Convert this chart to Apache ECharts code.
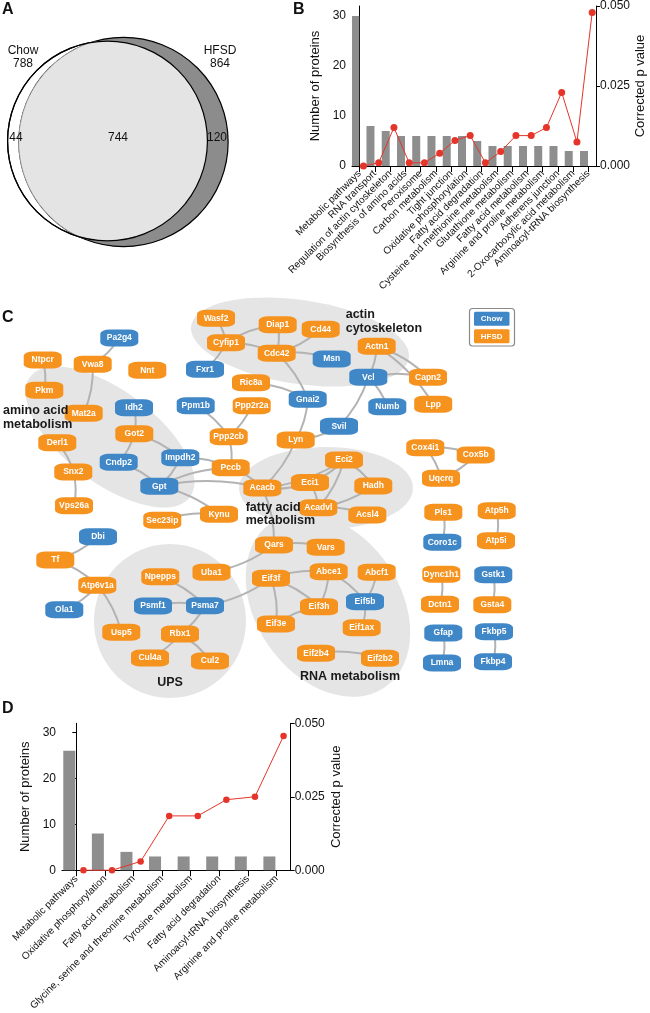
<!DOCTYPE html>
<html>
<head>
<meta charset="utf-8">
<script src="https://cdn.jsdelivr.net/npm/echarts@6/dist/echarts.min.js"></script>
<style>html,body{margin:0;padding:0;background:#fff}#c{width:650px;height:1013px}</style>
</head>
<body>
<div id="c"></div>
<script>
// ---------- DATA ----------
const vennNames = ['Chow', 'HFSD'];
const vennTotals = [788, 864];
const vennOnly = [44, 120];
const vennShared = 744;

const bCategories = ['Metabolic pathways', 'RNA transport', 'Regulation of actin cytoskeleton',
  'Biosynthesis of amino acids', 'Peroxisome', 'Carbon metabolism', 'Tight junction',
  'Oxidative phosphorylation', 'Fatty acid degradation', 'Cysteine and methionine metabolism',
  'Glutathione metabolism', 'Fatty acid metabolism', 'Arginine and proline metabolism',
  'Adherens junction', '2-Oxocarboxylic acid metabolism', 'Aminoacyl-tRNA biosynthesis'];
const bProteins = [30, 8, 7, 6, 6, 6, 6, 6, 5, 4, 4, 4, 4, 4, 3, 3];
const bPValues = [0.000, 0.001, 0.012, 0.001, 0.001, 0.004, 0.008, 0.0095, 0.001, 0.0045, 0.0095, 0.0095, 0.012, 0.023, 0.0075, 0.048];

const dCategories = ['Metabolic pathways', 'Oxidative phosphorylation', 'Fatty acid metabolism',
  'Glycine, serine and threonine metabolism', 'Tyrosine metabolism', 'Fatty acid degradation',
  'Aminoacyl-tRNA biosynthesis', 'Arginine and proline metabolism'];
const dProteins = [26, 8, 4, 3, 3, 3, 3, 3];
const dPValues = [0.000, 0.000, 0.003, 0.0185, 0.0185, 0.024, 0.025, 0.0457];

const countTicks = [0, 10, 20, 30];
const pTicks = [0, 0.025, 0.05];

// network: [protein, group]
const netNodes = [
  ['Pa2g4','Chow'],['Ntpcr','HFSD'],['Vwa8','HFSD'],['Nnt','HFSD'],['Fxr1','Chow'],['Pkm','HFSD'],
  ['Mat2a','HFSD'],['Idh2','Chow'],['Ppm1b','Chow'],['Got2','HFSD'],['Derl1','HFSD'],['Cndp2','Chow'],
  ['Impdh2','Chow'],['Snx2','HFSD'],['Gpt','Chow'],['Vps26a','HFSD'],['Sec23ip','HFSD'],['Kynu','HFSD'],
  ['Wasf2','HFSD'],['Diap1','HFSD'],['Cd44','HFSD'],['Cyfip1','HFSD'],['Cdc42','HFSD'],['Actn1','HFSD'],
  ['Msn','Chow'],['Vcl','Chow'],['Capn2','HFSD'],['Ric8a','HFSD'],['Gnai2','Chow'],['Numb','Chow'],
  ['Lpp','HFSD'],['Ppp2r2a','HFSD'],['Svil','Chow'],['Ppp2cb','HFSD'],['Lyn','HFSD'],['Cox4i1','HFSD'],
  ['Cox5b','HFSD'],['Eci2','HFSD'],['Pccb','HFSD'],['Uqcrq','HFSD'],['Eci1','HFSD'],['Hadh','HFSD'],
  ['Acacb','HFSD'],['Acadvl','HFSD'],['Acsl4','HFSD'],['Qars','HFSD'],['Vars','HFSD'],['Dbi','Chow'],
  ['Tf','HFSD'],['Npepps','HFSD'],['Uba1','HFSD'],['Atp6v1a','HFSD'],['Eif3f','HFSD'],['Abce1','HFSD'],
  ['Abcf1','HFSD'],['Psmf1','Chow'],['Psma7','Chow'],['Ola1','Chow'],['Eif3h','HFSD'],['Eif5b','Chow'],
  ['Usp5','HFSD'],['Rbx1','HFSD'],['Eif3e','HFSD'],['Eif1ax','HFSD'],['Cul4a','HFSD'],['Cul2','HFSD'],
  ['Eif2b4','HFSD'],['Eif2b2','HFSD'],['Pls1','HFSD'],['Atp5h','HFSD'],['Coro1c','Chow'],['Atp5i','HFSD'],
  ['Dync1h1','HFSD'],['Gstk1','Chow'],['Dctn1','HFSD'],['Gsta4','HFSD'],['Gfap','Chow'],['Fkbp5','Chow'],
  ['Lmna','Chow'],['Fkbp4','Chow']
];
const netEdges = [
  ['Pa2g4','Vwa8'],['Ntpcr','Pkm'],['Vwa8','Mat2a'],['Idh2','Got2'],['Got2','Cndp2'],['Got2','Impdh2'],
  ['Cndp2','Gpt'],['Impdh2','Gpt'],['Impdh2','Pccb'],['Gpt','Pccb'],['Gpt','Acacb'],['Gpt','Kynu'],
  ['Sec23ip','Kynu'],['Derl1','Snx2'],['Snx2','Vps26a'],['Ppm1b','Ppp2cb'],['Ppp2r2a','Ppp2cb'],
  ['Ppp2cb','Pccb'],['Pccb','Acacb'],['Ric8a','Gnai2'],['Cdc42','Gnai2'],['Wasf2','Cyfip1'],
  ['Cyfip1','Diap1'],['Cyfip1','Cdc42'],['Cyfip1','Fxr1'],['Diap1','Cdc42'],['Cd44','Cdc42'],
  ['Cdc42','Msn'],['Actn1','Vcl'],['Actn1','Capn2'],['Actn1','Lpp'],['Vcl','Capn2'],['Vcl','Numb'],
  ['Vcl','Svil'],['Gnai2','Lyn'],['Svil','Lyn'],['Lyn','Acacb'],['Eci2','Eci1'],['Eci2','Acadvl'],
  ['Eci2','Acacb'],['Eci2','Hadh'],['Eci1','Acacb'],['Eci1','Acadvl'],['Hadh','Acadvl'],['Acadvl','Acsl4'],
  ['Acacb','Qars'],['Qars','Vars'],['Qars','Uba1'],['Eif3f','Psma7'],['Eif3f','Abce1'],['Eif3f','Eif3h'],
  ['Eif3f','Eif3e'],['Abce1','Eif3h'],['Abce1','Eif5b'],['Abcf1','Eif5b'],['Eif5b','Eif1ax'],
  ['Eif3e','Eif3h'],['Eif2b4','Eif2b2'],['Npepps','Psma7'],['Psmf1','Psma7'],['Psma7','Rbx1'],
  ['Rbx1','Cul4a'],['Rbx1','Cul2'],['Dbi','Tf'],['Tf','Atp6v1a'],['Atp6v1a','Ola1'],['Atp6v1a','Usp5'],
  ['Cox4i1','Cox5b'],['Cox4i1','Uqcrq'],['Cox5b','Uqcrq'],['Pls1','Coro1c'],['Atp5h','Atp5i'],
  ['Dync1h1','Dctn1'],['Gstk1','Gsta4'],['Gfap','Lmna'],['Fkbp5','Fkbp4']
];
const clusterNames = ['amino acid\nmetabolism', 'actin\ncytoskeleton', 'fatty acid\nmetabolism', 'UPS', 'RNA metabolism'];

// ---------- LAYOUT (positions / sizes, not data) ----------
const netLayout = {
  Pa2g4:[119.3,338],Ntpcr:[42.7,360],Vwa8:[92.7,364.3],Nnt:[147.3,370.3],Fxr1:[205,369.3],Pkm:[44.3,390.3],
  Mat2a:[83.7,413.3],Idh2:[134,407.7],Ppm1b:[195.7,405.7],Got2:[134.3,433.7],Derl1:[57.3,442.7],Cndp2:[118.7,462.3],
  Impdh2:[180.3,457.7],Snx2:[73.3,472],Gpt:[159.3,486.3],Vps26a:[74,505.7],Sec23ip:[162.3,520.3],Kynu:[219,514.3],
  Wasf2:[216,318.3],Diap1:[277.7,324.7],Cd44:[320.7,329.3],Cyfip1:[226,342.7],Cdc42:[276.7,353.3],Actn1:[376.7,346.3],
  Msn:[331.7,359],Vcl:[368.3,377.3],Capn2:[428,377.3],Ric8a:[251,382.7],Gnai2:[307.7,399.3],Numb:[387.3,406.7],
  Lpp:[433.2,404.3],Ppp2r2a:[251.7,405.7],Svil:[339,426.3],Ppp2cb:[228.7,436.7],Lyn:[295.7,440],Cox4i1:[425.3,447.7],
  Cox5b:[475.7,455],Eci2:[344,460],Pccb:[230.7,467.7],Uqcrq:[441,478.3],Eci1:[310,482.5],Hadh:[373.3,486],
  Acacb:[262.3,488],Acadvl:[318.3,507.7],Acsl4:[367.3,515],Qars:[274,545],Vars:[325.7,547.3],Dbi:[98,536.7],
  Tf:[55.3,560],Npepps:[160.3,576.7],Uba1:[211.5,572.3],Atp6v1a:[97.3,585.3],Eif3f:[271,578.3],Abce1:[328.7,571.7],
  Abcf1:[376.7,572.3],Psmf1:[153,606],Psma7:[205,605.7],Ola1:[64.3,609.7],Eif3h:[319,606.7],Eif5b:[365,601.7],
  Usp5:[121.3,632.3],Rbx1:[180,634],Eif3e:[276,624],Eif1ax:[361.7,627.7],Cul4a:[150,658],Cul2:[210,661],
  Eif2b4:[316,653.3],Eif2b2:[380,658.3],Pls1:[443.3,512.3],Atp5h:[496.7,510.7],Coro1c:[442.3,542.3],Atp5i:[496,540.7],
  Dync1h1:[441.3,574.3],Gstk1:[493.3,574.7],Dctn1:[440,604.3],Gsta4:[492.3,604.7],Gfap:[443.3,633],Fkbp5:[494,631.7],
  Lmna:[442,663],Fkbp4:[493,661.7]
};
const clusterShapes = [
  {cx:110, cy:437, rx:100, ry:46, rot:-37},
  {cx:300, cy:342, rx:110, ry:42, rot:-8.5},
  {cx:326, cy:488, rx:87, ry:41, rot:0},
  {cx:170, cy:621, rx:76, ry:77, rot:0},
  {cx:328, cy:605, rx:100, ry:72, rot:-55}
];
const clusterLabelPos = [
  {x:3, y:411, align:'left'}, {x:345.7, y:315, align:'left'}, {x:245.7, y:507.5, align:'left'},
  {x:170, y:683, align:'center'}, {x:350, y:677, align:'center'}
];

const FONT = '"Liberation Sans", Arial, Helvetica, sans-serif';
const ORANGE = '#f6921e', BLUE = '#3f87c6', GRAY = '#8e8e8e', RED = '#e5352a';

// ---------- VENN geometry from counts ----------
const vennScale = 3.56;
const vennR = vennTotals.map(n => vennScale * Math.sqrt(n));
const vennC = [[107.5, 141], [123.5, 142]];
function lensPoints(c1, r1, c2, r2) {
  const dx = c2[0]-c1[0], dy = c2[1]-c1[1], d = Math.hypot(dx, dy);
  const ang = Math.atan2(dy, dx);
  const a = (r1*r1 - r2*r2 + d*d) / (2*d);
  const phi1 = Math.acos(a / r1);
  const phi2 = Math.acos((a - d) / r2);
  const pts = [], N = 160;
  for (let i = 0; i <= N; i++) { const t = ang - phi1 + 2*phi1*i/N; pts.push([c1[0]+r1*Math.cos(t), c1[1]+r1*Math.sin(t)]); }
  for (let i = 0; i <= N; i++) { const t = ang + phi2 + (2*Math.PI - 2*phi2)*i/N; pts.push([c2[0]+r2*Math.cos(t), c2[1]+r2*Math.sin(t)]); }
  return pts;
}

function txt(text, x, y, font, align, valign, fill) {
  return {type:'text', x, y, z:5, silent:true,
    style:{text, font, fill: fill || '#111', textAlign: align || 'left', align: align || 'left',
      textVerticalAlign: valign || 'middle', verticalAlign: valign || 'middle', lineHeight: 13}};
}

const graphics = [];
// panel labels
graphics.push(txt('A', 2, 10, 'bold 16px ' + FONT));
graphics.push(txt('B', 293, 10, 'bold 16px ' + FONT));
graphics.push(txt('C', 2, 318, 'bold 16px ' + FONT));
graphics.push(txt('D', 2, 709, 'bold 16px ' + FONT));
// Venn
graphics.push({type:'circle', z:1, shape:{cx:vennC[0][0], cy:vennC[0][1], r:vennR[0]}, style:{fill:'#fff', stroke:'#000', lineWidth:1.2}});
graphics.push({type:'circle', z:1, shape:{cx:vennC[1][0], cy:vennC[1][1], r:vennR[1]}, style:{fill:'#8c8c8c', stroke:'#000', lineWidth:1.2}});
graphics.push({type:'polygon', z:2, shape:{points: lensPoints(vennC[0], vennR[0], vennC[1], vennR[1])}, style:{fill:'#e4e4e4', stroke:'#b5b5b5', lineWidth:0.8}});
graphics.push({type:'circle', z:3, shape:{cx:vennC[0][0], cy:vennC[0][1], r:vennR[0]}, style:{fill:'none', stroke:'#000', lineWidth:1.2}});
const vf = '12px ' + FONT;
graphics.push(txt(vennNames[0] + '\n' + vennTotals[0], 23, 57, vf, 'center'));
graphics.push(txt(vennNames[1] + '\n' + vennTotals[1], 220, 57, vf, 'center'));
graphics.push(txt(String(vennOnly[0]), 16, 138, vf, 'center'));
graphics.push(txt(String(vennShared), 118, 138, vf, 'center'));
graphics.push(txt(String(vennOnly[1]), 217, 138, vf, 'center'));
// clusters
clusterShapes.forEach(s => {
  graphics.push({type:'ellipse', z:0, x:s.cx, y:s.cy, rotation: s.rot*Math.PI/180, silent:true,
    shape:{cx:0, cy:0, rx:s.rx, ry:s.ry}, style:{fill:'#e5e5e5'}});
});
clusterNames.forEach((n, i) => {
  const p = clusterLabelPos[i];
  const lines = n.split('\n');
  lines.forEach((ln, j) => graphics.push(txt(ln, p.x, p.y + j*13.5, 'bold 12.5px ' + FONT, p.align, 'middle', '#1a1a1a')));
});
// legend box for C
graphics.push({type:'rect', z:1, shape:{x:469.5, y:308.5, width:45, height:37.5, r:3}, style:{fill:'#fff', stroke:'#8a8a8a', lineWidth:1.2}});
[['Chow', BLUE, 318.7], ['HFSD', ORANGE, 336.3]].forEach(([t, c, y]) => {
  graphics.push({type:'rect', z:2, shape:{x:474, y:y-7, width:35.5, height:14, r:1.5}, style:{fill:c}});
  graphics.push(txt(t, 491.7, y, 'bold 8px ' + FONT, 'center', 'middle', '#fff'));
});

// ---------- axes helpers ----------
const axisLineStyle = {show:true, lineStyle:{color:'#000', width:1}};
function catAxis(grid, cats, margin) {
  return {type:'category', gridIndex:grid, data:cats, boundaryGap:true,
    axisLine:axisLineStyle, axisTick:{show:true, alignWithLabel:true, interval:0, length:6, lineStyle:{color:'#000'}},
    axisLabel:{interval:0, rotate:45, margin, fontSize:10, color:'#111', fontFamily:FONT},
    splitLine:{show:false}};
}
function hiddenX(grid, n) { return {type:'value', gridIndex:grid, min:-0.5, max:n-0.5, show:false}; }
function countAxis(grid, gap) {
  return {type:'value', gridIndex:grid, min:0, max:32, position:'left',
    axisLine:axisLineStyle, axisTick:{show:true, length:4, customValues:countTicks, lineStyle:{color:'#000'}},
    axisLabel:{customValues:countTicks, fontSize:12, color:'#111', margin:6, fontFamily:FONT},
    splitLine:{show:false}, name:'Number of proteins', nameLocation:'middle', nameGap:gap,
    nameTextStyle:{fontSize:13, color:'#111', fontFamily:FONT}};
}
function pAxis(grid, gap) {
  return {type:'value', gridIndex:grid, min:0, max:0.05, interval:0.025, position:'right',
    axisLine:axisLineStyle, axisTick:{show:true, length:4, lineStyle:{color:'#000'}},
    axisLabel:{formatter:v => v.toFixed(3), fontSize:12, color:'#111', margin:4, fontFamily:FONT},
    splitLine:{show:false}, name:'Corrected p value', nameLocation:'middle', nameGap:gap,
    nameTextStyle:{fontSize:13, color:'#111', fontFamily:FONT}};
}

const chart = echarts.init(document.getElementById('c'), null, {renderer:'canvas'});
chart.setOption({
  animation:false,
  backgroundColor:'#fff',
  textStyle:{fontFamily:FONT},
  grid:[
    {left:352, top:4.7, width:244, height:161.3},
    {left:0, top:0, width:650, height:1013},
    {left:62, top:723.3, width:228.7, height:151.7}
  ],
  xAxis:[
    catAxis(0, bCategories, 6),
    hiddenX(0, bCategories.length),
    {type:'value', gridIndex:1, min:0, max:650, show:false},
    catAxis(2, dCategories, 7),
    hiddenX(2, dCategories.length)
  ],
  yAxis:[
    countAxis(0, 30),
    pAxis(0, 34),
    {type:'value', gridIndex:1, min:0, max:1013, inverse:true, show:false},
    countAxis(2, 30),
    pAxis(2, 39)
  ],
  graphic:{elements:graphics},
  series:[
    {type:'bar', xAxisIndex:0, yAxisIndex:0, data:bProteins, barWidth:8, barGap:'10%', itemStyle:{color:GRAY}},
    {type:'bar', xAxisIndex:0, yAxisIndex:0, data:bProteins.map(() => '-'), barWidth:8},
    {type:'line', xAxisIndex:1, yAxisIndex:1, data:bPValues.map((v, i) => [i + 0.25, v]), clip:false,
      symbol:'circle', symbolSize:7, itemStyle:{color:RED}, lineStyle:{color:RED, width:1}, z:5},
    {type:'bar', xAxisIndex:3, yAxisIndex:3, data:dProteins, barWidth:12, barGap:'17%', itemStyle:{color:GRAY}},
    {type:'bar', xAxisIndex:3, yAxisIndex:3, data:dProteins.map(() => '-'), barWidth:12},
    {type:'line', xAxisIndex:4, yAxisIndex:4, data:dPValues.map((v, i) => [i + 0.25, v]), clip:false,
      symbol:'circle', symbolSize:6.5, itemStyle:{color:RED}, lineStyle:{color:RED, width:1}, z:5},
    {type:'graph', coordinateSystem:'cartesian2d', xAxisIndex:2, yAxisIndex:2, layout:'none', roam:false, z:3,
      symbol:'roundRect', symbolSize:[38, 17],
      data: netNodes.map(([name, grp]) => ({name, value: netLayout[name],
        itemStyle:{color: grp === 'Chow' ? BLUE : ORANGE}})),
      links: netEdges.map(([s, t]) => ({source:s, target:t})),
      label:{show:true, position:'inside', color:'#fff', fontSize:8.5, fontWeight:'bold', fontFamily:FONT},
      lineStyle:{color:'#b3b3b3', width:2, curveness:0.12, opacity:1},
      emphasis:{disabled:true}
    }
  ]
});
</script>
</body>
</html>
